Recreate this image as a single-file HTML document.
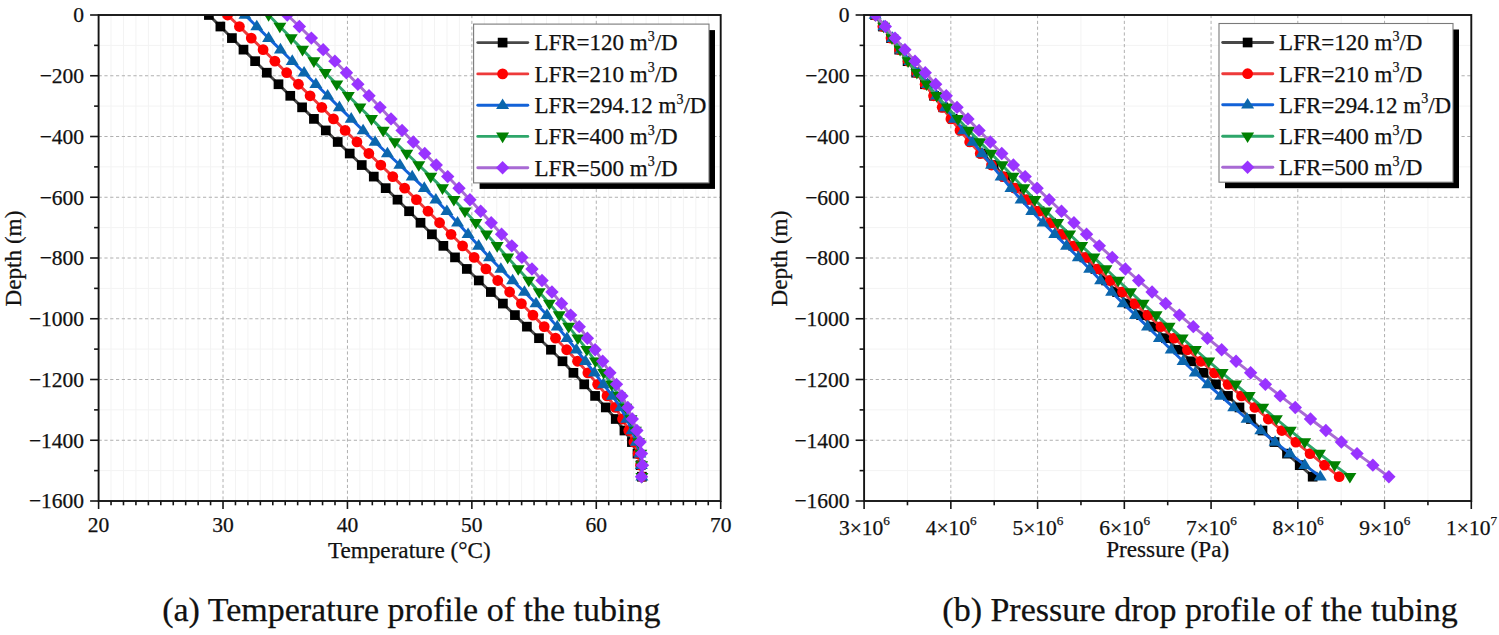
<!DOCTYPE html><html><head><meta charset="utf-8"><style>html,body{margin:0;padding:0;background:#fff;width:1499px;height:635px;overflow:hidden}svg{display:block;font-family:"Liberation Serif",serif}text{stroke:#111;stroke-width:0.25px;paint-order:stroke}</style></head><body><svg width="1499" height="635" viewBox="0 0 1499 635" font-family="Liberation Serif" font-size="21.5" fill="#111"><defs><clipPath id="ca"><rect x="98.6" y="15.0" width="622.10" height="486.0"/></clipPath><clipPath id="cb"><rect x="864.1" y="15.0" width="607.20" height="486.0"/></clipPath></defs><line x1="111.04" y1="15.0" x2="111.04" y2="501.0" stroke="#f3f3f3" stroke-width="1"/><line x1="123.48" y1="15.0" x2="123.48" y2="501.0" stroke="#f3f3f3" stroke-width="1"/><line x1="135.93" y1="15.0" x2="135.93" y2="501.0" stroke="#f3f3f3" stroke-width="1"/><line x1="148.37" y1="15.0" x2="148.37" y2="501.0" stroke="#f3f3f3" stroke-width="1"/><line x1="160.81" y1="15.0" x2="160.81" y2="501.0" stroke="#f3f3f3" stroke-width="1"/><line x1="173.25" y1="15.0" x2="173.25" y2="501.0" stroke="#f3f3f3" stroke-width="1"/><line x1="185.69" y1="15.0" x2="185.69" y2="501.0" stroke="#f3f3f3" stroke-width="1"/><line x1="198.14" y1="15.0" x2="198.14" y2="501.0" stroke="#f3f3f3" stroke-width="1"/><line x1="210.58" y1="15.0" x2="210.58" y2="501.0" stroke="#f3f3f3" stroke-width="1"/><line x1="235.46" y1="15.0" x2="235.46" y2="501.0" stroke="#f3f3f3" stroke-width="1"/><line x1="247.90" y1="15.0" x2="247.90" y2="501.0" stroke="#f3f3f3" stroke-width="1"/><line x1="260.35" y1="15.0" x2="260.35" y2="501.0" stroke="#f3f3f3" stroke-width="1"/><line x1="272.79" y1="15.0" x2="272.79" y2="501.0" stroke="#f3f3f3" stroke-width="1"/><line x1="285.23" y1="15.0" x2="285.23" y2="501.0" stroke="#f3f3f3" stroke-width="1"/><line x1="297.67" y1="15.0" x2="297.67" y2="501.0" stroke="#f3f3f3" stroke-width="1"/><line x1="310.11" y1="15.0" x2="310.11" y2="501.0" stroke="#f3f3f3" stroke-width="1"/><line x1="322.56" y1="15.0" x2="322.56" y2="501.0" stroke="#f3f3f3" stroke-width="1"/><line x1="335.00" y1="15.0" x2="335.00" y2="501.0" stroke="#f3f3f3" stroke-width="1"/><line x1="359.88" y1="15.0" x2="359.88" y2="501.0" stroke="#f3f3f3" stroke-width="1"/><line x1="372.32" y1="15.0" x2="372.32" y2="501.0" stroke="#f3f3f3" stroke-width="1"/><line x1="384.77" y1="15.0" x2="384.77" y2="501.0" stroke="#f3f3f3" stroke-width="1"/><line x1="397.21" y1="15.0" x2="397.21" y2="501.0" stroke="#f3f3f3" stroke-width="1"/><line x1="409.65" y1="15.0" x2="409.65" y2="501.0" stroke="#f3f3f3" stroke-width="1"/><line x1="422.09" y1="15.0" x2="422.09" y2="501.0" stroke="#f3f3f3" stroke-width="1"/><line x1="434.53" y1="15.0" x2="434.53" y2="501.0" stroke="#f3f3f3" stroke-width="1"/><line x1="446.98" y1="15.0" x2="446.98" y2="501.0" stroke="#f3f3f3" stroke-width="1"/><line x1="459.42" y1="15.0" x2="459.42" y2="501.0" stroke="#f3f3f3" stroke-width="1"/><line x1="484.30" y1="15.0" x2="484.30" y2="501.0" stroke="#f3f3f3" stroke-width="1"/><line x1="496.74" y1="15.0" x2="496.74" y2="501.0" stroke="#f3f3f3" stroke-width="1"/><line x1="509.19" y1="15.0" x2="509.19" y2="501.0" stroke="#f3f3f3" stroke-width="1"/><line x1="521.63" y1="15.0" x2="521.63" y2="501.0" stroke="#f3f3f3" stroke-width="1"/><line x1="534.07" y1="15.0" x2="534.07" y2="501.0" stroke="#f3f3f3" stroke-width="1"/><line x1="546.51" y1="15.0" x2="546.51" y2="501.0" stroke="#f3f3f3" stroke-width="1"/><line x1="558.95" y1="15.0" x2="558.95" y2="501.0" stroke="#f3f3f3" stroke-width="1"/><line x1="571.40" y1="15.0" x2="571.40" y2="501.0" stroke="#f3f3f3" stroke-width="1"/><line x1="583.84" y1="15.0" x2="583.84" y2="501.0" stroke="#f3f3f3" stroke-width="1"/><line x1="608.72" y1="15.0" x2="608.72" y2="501.0" stroke="#f3f3f3" stroke-width="1"/><line x1="621.16" y1="15.0" x2="621.16" y2="501.0" stroke="#f3f3f3" stroke-width="1"/><line x1="633.61" y1="15.0" x2="633.61" y2="501.0" stroke="#f3f3f3" stroke-width="1"/><line x1="646.05" y1="15.0" x2="646.05" y2="501.0" stroke="#f3f3f3" stroke-width="1"/><line x1="658.49" y1="15.0" x2="658.49" y2="501.0" stroke="#f3f3f3" stroke-width="1"/><line x1="670.93" y1="15.0" x2="670.93" y2="501.0" stroke="#f3f3f3" stroke-width="1"/><line x1="683.37" y1="15.0" x2="683.37" y2="501.0" stroke="#f3f3f3" stroke-width="1"/><line x1="695.82" y1="15.0" x2="695.82" y2="501.0" stroke="#f3f3f3" stroke-width="1"/><line x1="708.26" y1="15.0" x2="708.26" y2="501.0" stroke="#f3f3f3" stroke-width="1"/><line x1="98.6" y1="45.38" x2="720.7" y2="45.38" stroke="#f3f3f3" stroke-width="1"/><line x1="98.6" y1="106.12" x2="720.7" y2="106.12" stroke="#f3f3f3" stroke-width="1"/><line x1="98.6" y1="166.88" x2="720.7" y2="166.88" stroke="#f3f3f3" stroke-width="1"/><line x1="98.6" y1="227.62" x2="720.7" y2="227.62" stroke="#f3f3f3" stroke-width="1"/><line x1="98.6" y1="288.38" x2="720.7" y2="288.38" stroke="#f3f3f3" stroke-width="1"/><line x1="98.6" y1="349.12" x2="720.7" y2="349.12" stroke="#f3f3f3" stroke-width="1"/><line x1="98.6" y1="409.88" x2="720.7" y2="409.88" stroke="#f3f3f3" stroke-width="1"/><line x1="98.6" y1="470.62" x2="720.7" y2="470.62" stroke="#f3f3f3" stroke-width="1"/><line x1="223.02" y1="15.0" x2="223.02" y2="501.0" stroke="#b0b0b0" stroke-width="1" stroke-dasharray="3.2 2.6"/><line x1="347.44" y1="15.0" x2="347.44" y2="501.0" stroke="#b0b0b0" stroke-width="1" stroke-dasharray="3.2 2.6"/><line x1="471.86" y1="15.0" x2="471.86" y2="501.0" stroke="#b0b0b0" stroke-width="1" stroke-dasharray="3.2 2.6"/><line x1="596.28" y1="15.0" x2="596.28" y2="501.0" stroke="#b0b0b0" stroke-width="1" stroke-dasharray="3.2 2.6"/><line x1="98.6" y1="75.75" x2="720.7" y2="75.75" stroke="#b0b0b0" stroke-width="1" stroke-dasharray="3.2 2.6"/><line x1="98.6" y1="136.50" x2="720.7" y2="136.50" stroke="#b0b0b0" stroke-width="1" stroke-dasharray="3.2 2.6"/><line x1="98.6" y1="197.25" x2="720.7" y2="197.25" stroke="#b0b0b0" stroke-width="1" stroke-dasharray="3.2 2.6"/><line x1="98.6" y1="258.00" x2="720.7" y2="258.00" stroke="#b0b0b0" stroke-width="1" stroke-dasharray="3.2 2.6"/><line x1="98.6" y1="318.75" x2="720.7" y2="318.75" stroke="#b0b0b0" stroke-width="1" stroke-dasharray="3.2 2.6"/><line x1="98.6" y1="379.50" x2="720.7" y2="379.50" stroke="#b0b0b0" stroke-width="1" stroke-dasharray="3.2 2.6"/><line x1="98.6" y1="440.25" x2="720.7" y2="440.25" stroke="#b0b0b0" stroke-width="1" stroke-dasharray="3.2 2.6"/><g clip-path="url(#ca)"><path d="M208.89 15.00 L220.38 26.54 L231.91 38.09 L243.49 49.63 L255.11 61.17 L266.78 72.71 L278.49 84.25 L290.26 95.80 L302.08 107.34 L313.93 118.88 L325.81 130.43 L337.71 141.97 L349.71 153.51 L361.75 165.05 L373.77 176.59 L385.70 188.14 L397.49 199.68 L409.07 211.22 L420.51 222.76 L431.91 234.31 L443.38 245.85 L455.00 257.39 L466.82 268.94 L478.79 280.48 L490.84 292.02 L502.90 303.56 L514.92 315.11 L526.91 326.65 L538.99 338.19 L550.93 349.73 L562.49 361.27 L573.42 372.82 L584.24 384.36 L595.09 395.90 L605.79 407.44 L615.74 418.99 L624.45 430.53 L631.92 442.07 L637.52 453.62 L640.63 465.16 L641.87 476.70" fill="none" stroke="#484848" stroke-width="2.9" stroke-linejoin="round" stroke-linecap="round"/><rect x="204.04" y="10.15" width="9.70" height="9.70" fill="#000000"/><rect x="215.53" y="21.69" width="9.70" height="9.70" fill="#000000"/><rect x="227.06" y="33.23" width="9.70" height="9.70" fill="#000000"/><rect x="238.64" y="44.78" width="9.70" height="9.70" fill="#000000"/><rect x="250.26" y="56.32" width="9.70" height="9.70" fill="#000000"/><rect x="261.93" y="67.86" width="9.70" height="9.70" fill="#000000"/><rect x="273.64" y="79.41" width="9.70" height="9.70" fill="#000000"/><rect x="285.41" y="90.95" width="9.70" height="9.70" fill="#000000"/><rect x="297.23" y="102.49" width="9.70" height="9.70" fill="#000000"/><rect x="309.08" y="114.03" width="9.70" height="9.70" fill="#000000"/><rect x="320.96" y="125.58" width="9.70" height="9.70" fill="#000000"/><rect x="332.86" y="137.12" width="9.70" height="9.70" fill="#000000"/><rect x="344.86" y="148.66" width="9.70" height="9.70" fill="#000000"/><rect x="356.90" y="160.20" width="9.70" height="9.70" fill="#000000"/><rect x="368.92" y="171.75" width="9.70" height="9.70" fill="#000000"/><rect x="380.85" y="183.29" width="9.70" height="9.70" fill="#000000"/><rect x="392.64" y="194.83" width="9.70" height="9.70" fill="#000000"/><rect x="404.22" y="206.37" width="9.70" height="9.70" fill="#000000"/><rect x="415.66" y="217.91" width="9.70" height="9.70" fill="#000000"/><rect x="427.06" y="229.46" width="9.70" height="9.70" fill="#000000"/><rect x="438.53" y="241.00" width="9.70" height="9.70" fill="#000000"/><rect x="450.15" y="252.54" width="9.70" height="9.70" fill="#000000"/><rect x="461.97" y="264.08" width="9.70" height="9.70" fill="#000000"/><rect x="473.94" y="275.63" width="9.70" height="9.70" fill="#000000"/><rect x="485.99" y="287.17" width="9.70" height="9.70" fill="#000000"/><rect x="498.05" y="298.71" width="9.70" height="9.70" fill="#000000"/><rect x="510.07" y="310.25" width="9.70" height="9.70" fill="#000000"/><rect x="522.06" y="321.80" width="9.70" height="9.70" fill="#000000"/><rect x="534.14" y="333.34" width="9.70" height="9.70" fill="#000000"/><rect x="546.08" y="344.88" width="9.70" height="9.70" fill="#000000"/><rect x="557.64" y="356.42" width="9.70" height="9.70" fill="#000000"/><rect x="568.57" y="367.97" width="9.70" height="9.70" fill="#000000"/><rect x="579.39" y="379.51" width="9.70" height="9.70" fill="#000000"/><rect x="590.24" y="391.05" width="9.70" height="9.70" fill="#000000"/><rect x="600.94" y="402.59" width="9.70" height="9.70" fill="#000000"/><rect x="610.89" y="414.14" width="9.70" height="9.70" fill="#000000"/><rect x="619.60" y="425.68" width="9.70" height="9.70" fill="#000000"/><rect x="627.07" y="437.22" width="9.70" height="9.70" fill="#000000"/><rect x="632.67" y="448.76" width="9.70" height="9.70" fill="#000000"/><rect x="635.78" y="460.31" width="9.70" height="9.70" fill="#000000"/><rect x="637.02" y="471.85" width="9.70" height="9.70" fill="#000000"/><path d="M227.55 15.00 L239.42 26.54 L251.27 38.09 L263.09 49.63 L274.89 61.17 L286.67 72.71 L298.41 84.25 L310.10 95.80 L321.76 107.34 L333.44 118.88 L345.15 130.43 L356.95 141.97 L368.85 153.51 L380.80 165.05 L392.75 176.59 L404.63 188.14 L416.40 199.68 L428.03 211.22 L439.56 222.76 L451.06 234.31 L462.58 245.85 L474.16 257.39 L485.89 268.94 L497.75 280.48 L509.62 292.02 L521.38 303.56 L532.91 315.11 L544.22 326.65 L555.52 338.19 L566.68 349.73 L577.52 361.27 L587.88 372.82 L597.66 384.36 L607.03 395.90 L615.42 407.44 L622.51 418.99 L628.75 430.53 L633.91 442.07 L638.17 453.62 L640.61 465.16 L641.87 476.70" fill="none" stroke="#ee3a3a" stroke-width="2.9" stroke-linejoin="round" stroke-linecap="round"/><circle cx="227.55" cy="15.00" r="5.4" fill="#ff0000"/><circle cx="239.42" cy="26.54" r="5.4" fill="#ff0000"/><circle cx="251.27" cy="38.09" r="5.4" fill="#ff0000"/><circle cx="263.09" cy="49.63" r="5.4" fill="#ff0000"/><circle cx="274.89" cy="61.17" r="5.4" fill="#ff0000"/><circle cx="286.67" cy="72.71" r="5.4" fill="#ff0000"/><circle cx="298.41" cy="84.25" r="5.4" fill="#ff0000"/><circle cx="310.10" cy="95.80" r="5.4" fill="#ff0000"/><circle cx="321.76" cy="107.34" r="5.4" fill="#ff0000"/><circle cx="333.44" cy="118.88" r="5.4" fill="#ff0000"/><circle cx="345.15" cy="130.43" r="5.4" fill="#ff0000"/><circle cx="356.95" cy="141.97" r="5.4" fill="#ff0000"/><circle cx="368.85" cy="153.51" r="5.4" fill="#ff0000"/><circle cx="380.80" cy="165.05" r="5.4" fill="#ff0000"/><circle cx="392.75" cy="176.59" r="5.4" fill="#ff0000"/><circle cx="404.63" cy="188.14" r="5.4" fill="#ff0000"/><circle cx="416.40" cy="199.68" r="5.4" fill="#ff0000"/><circle cx="428.03" cy="211.22" r="5.4" fill="#ff0000"/><circle cx="439.56" cy="222.76" r="5.4" fill="#ff0000"/><circle cx="451.06" cy="234.31" r="5.4" fill="#ff0000"/><circle cx="462.58" cy="245.85" r="5.4" fill="#ff0000"/><circle cx="474.16" cy="257.39" r="5.4" fill="#ff0000"/><circle cx="485.89" cy="268.94" r="5.4" fill="#ff0000"/><circle cx="497.75" cy="280.48" r="5.4" fill="#ff0000"/><circle cx="509.62" cy="292.02" r="5.4" fill="#ff0000"/><circle cx="521.38" cy="303.56" r="5.4" fill="#ff0000"/><circle cx="532.91" cy="315.11" r="5.4" fill="#ff0000"/><circle cx="544.22" cy="326.65" r="5.4" fill="#ff0000"/><circle cx="555.52" cy="338.19" r="5.4" fill="#ff0000"/><circle cx="566.68" cy="349.73" r="5.4" fill="#ff0000"/><circle cx="577.52" cy="361.27" r="5.4" fill="#ff0000"/><circle cx="587.88" cy="372.82" r="5.4" fill="#ff0000"/><circle cx="597.66" cy="384.36" r="5.4" fill="#ff0000"/><circle cx="607.03" cy="395.90" r="5.4" fill="#ff0000"/><circle cx="615.42" cy="407.44" r="5.4" fill="#ff0000"/><circle cx="622.51" cy="418.99" r="5.4" fill="#ff0000"/><circle cx="628.75" cy="430.53" r="5.4" fill="#ff0000"/><circle cx="633.91" cy="442.07" r="5.4" fill="#ff0000"/><circle cx="638.17" cy="453.62" r="5.4" fill="#ff0000"/><circle cx="640.61" cy="465.16" r="5.4" fill="#ff0000"/><circle cx="641.87" cy="476.70" r="5.4" fill="#ff0000"/><path d="M244.97 15.00 L256.79 26.54 L268.61 38.09 L280.43 49.63 L292.25 61.17 L304.07 72.71 L315.88 84.25 L327.64 95.80 L339.41 107.34 L351.22 118.88 L363.10 130.43 L375.12 141.97 L387.42 153.51 L399.85 165.05 L412.20 176.59 L424.27 188.14 L435.86 199.68 L446.89 211.22 L457.56 222.76 L468.07 234.31 L478.64 245.85 L489.50 257.39 L500.85 268.94 L512.61 280.48 L524.43 292.02 L536.00 303.56 L547.00 315.11 L557.23 326.65 L566.97 338.19 L576.36 349.73 L585.48 361.27 L594.43 372.82 L603.37 384.36 L612.49 395.90 L620.54 407.44 L626.78 418.99 L632.03 430.53 L636.26 442.07 L639.79 453.62 L641.30 465.16 L641.87 476.70" fill="none" stroke="#1262d8" stroke-width="2.9" stroke-linejoin="round" stroke-linecap="round"/><path d="M244.97 8.20L251.47 18.80L238.47 18.80Z" fill="#0b66ad"/><path d="M256.79 19.74L263.29 30.34L250.29 30.34Z" fill="#0b66ad"/><path d="M268.61 31.29L275.11 41.88L262.11 41.88Z" fill="#0b66ad"/><path d="M280.43 42.83L286.93 53.43L273.93 53.43Z" fill="#0b66ad"/><path d="M292.25 54.37L298.75 64.97L285.75 64.97Z" fill="#0b66ad"/><path d="M304.07 65.91L310.57 76.51L297.57 76.51Z" fill="#0b66ad"/><path d="M315.88 77.45L322.38 88.05L309.38 88.05Z" fill="#0b66ad"/><path d="M327.64 89.00L334.14 99.60L321.14 99.60Z" fill="#0b66ad"/><path d="M339.41 100.54L345.91 111.14L332.91 111.14Z" fill="#0b66ad"/><path d="M351.22 112.08L357.72 122.68L344.72 122.68Z" fill="#0b66ad"/><path d="M363.10 123.63L369.60 134.23L356.60 134.23Z" fill="#0b66ad"/><path d="M375.12 135.17L381.62 145.77L368.62 145.77Z" fill="#0b66ad"/><path d="M387.42 146.71L393.92 157.31L380.92 157.31Z" fill="#0b66ad"/><path d="M399.85 158.25L406.35 168.85L393.35 168.85Z" fill="#0b66ad"/><path d="M412.20 169.79L418.70 180.40L405.70 180.40Z" fill="#0b66ad"/><path d="M424.27 181.34L430.77 191.94L417.77 191.94Z" fill="#0b66ad"/><path d="M435.86 192.88L442.36 203.48L429.36 203.48Z" fill="#0b66ad"/><path d="M446.89 204.42L453.39 215.02L440.39 215.02Z" fill="#0b66ad"/><path d="M457.56 215.96L464.06 226.56L451.06 226.56Z" fill="#0b66ad"/><path d="M468.07 227.51L474.57 238.11L461.57 238.11Z" fill="#0b66ad"/><path d="M478.64 239.05L485.14 249.65L472.14 249.65Z" fill="#0b66ad"/><path d="M489.50 250.59L496.00 261.19L483.00 261.19Z" fill="#0b66ad"/><path d="M500.85 262.13L507.35 272.74L494.35 272.74Z" fill="#0b66ad"/><path d="M512.61 273.68L519.11 284.28L506.11 284.28Z" fill="#0b66ad"/><path d="M524.43 285.22L530.93 295.82L517.93 295.82Z" fill="#0b66ad"/><path d="M536.00 296.76L542.50 307.36L529.50 307.36Z" fill="#0b66ad"/><path d="M547.00 308.31L553.50 318.91L540.50 318.91Z" fill="#0b66ad"/><path d="M557.23 319.85L563.73 330.45L550.73 330.45Z" fill="#0b66ad"/><path d="M566.97 331.39L573.47 341.99L560.47 341.99Z" fill="#0b66ad"/><path d="M576.36 342.93L582.86 353.53L569.86 353.53Z" fill="#0b66ad"/><path d="M585.48 354.47L591.98 365.07L578.98 365.07Z" fill="#0b66ad"/><path d="M594.43 366.02L600.93 376.62L587.93 376.62Z" fill="#0b66ad"/><path d="M603.37 377.56L609.87 388.16L596.87 388.16Z" fill="#0b66ad"/><path d="M612.49 389.10L618.99 399.70L605.99 399.70Z" fill="#0b66ad"/><path d="M620.54 400.64L627.04 411.25L614.04 411.25Z" fill="#0b66ad"/><path d="M626.78 412.19L633.28 422.79L620.28 422.79Z" fill="#0b66ad"/><path d="M632.03 423.73L638.53 434.33L625.53 434.33Z" fill="#0b66ad"/><path d="M636.26 435.27L642.76 445.87L629.76 445.87Z" fill="#0b66ad"/><path d="M639.79 446.81L646.29 457.42L633.29 457.42Z" fill="#0b66ad"/><path d="M641.30 458.36L647.80 468.96L634.80 468.96Z" fill="#0b66ad"/><path d="M641.87 469.90L648.37 480.50L635.37 480.50Z" fill="#0b66ad"/><path d="M268.61 15.00 L279.86 26.54 L291.16 38.09 L302.50 49.63 L313.89 61.17 L325.32 72.71 L336.79 84.25 L348.31 95.80 L359.88 107.34 L371.49 118.88 L383.15 130.43 L394.87 141.97 L406.79 153.51 L418.79 165.05 L430.73 176.59 L442.48 188.14 L453.88 199.68 L464.97 211.22 L475.85 222.76 L486.56 234.31 L497.16 245.85 L507.69 257.39 L518.24 268.94 L528.79 280.48 L539.22 292.02 L549.41 303.56 L559.23 315.11 L568.67 326.65 L577.88 338.19 L586.84 349.73 L595.47 361.27 L603.71 372.82 L611.56 384.36 L619.18 395.90 L625.77 407.44 L630.98 418.99 L635.39 430.53 L638.55 442.07 L640.77 453.62 L641.59 465.16 L641.87 476.70" fill="none" stroke="#2ea66a" stroke-width="2.9" stroke-linejoin="round" stroke-linecap="round"/><path d="M268.61 21.80L275.11 11.20L262.11 11.20Z" fill="#008000"/><path d="M279.86 33.34L286.36 22.74L273.36 22.74Z" fill="#008000"/><path d="M291.16 44.88L297.66 34.29L284.66 34.29Z" fill="#008000"/><path d="M302.50 56.43L309.00 45.83L296.00 45.83Z" fill="#008000"/><path d="M313.89 67.97L320.39 57.37L307.39 57.37Z" fill="#008000"/><path d="M325.32 79.51L331.82 68.91L318.82 68.91Z" fill="#008000"/><path d="M336.79 91.05L343.29 80.45L330.29 80.45Z" fill="#008000"/><path d="M348.31 102.60L354.81 92.00L341.81 92.00Z" fill="#008000"/><path d="M359.88 114.14L366.38 103.54L353.38 103.54Z" fill="#008000"/><path d="M371.49 125.68L377.99 115.08L364.99 115.08Z" fill="#008000"/><path d="M383.15 137.23L389.65 126.63L376.65 126.63Z" fill="#008000"/><path d="M394.87 148.77L401.37 138.17L388.37 138.17Z" fill="#008000"/><path d="M406.79 160.31L413.29 149.71L400.29 149.71Z" fill="#008000"/><path d="M418.79 171.85L425.29 161.25L412.29 161.25Z" fill="#008000"/><path d="M430.73 183.40L437.23 172.79L424.23 172.79Z" fill="#008000"/><path d="M442.48 194.94L448.98 184.34L435.98 184.34Z" fill="#008000"/><path d="M453.88 206.48L460.38 195.88L447.38 195.88Z" fill="#008000"/><path d="M464.97 218.02L471.47 207.42L458.47 207.42Z" fill="#008000"/><path d="M475.85 229.56L482.35 218.96L469.35 218.96Z" fill="#008000"/><path d="M486.56 241.11L493.06 230.51L480.06 230.51Z" fill="#008000"/><path d="M497.16 252.65L503.66 242.05L490.66 242.05Z" fill="#008000"/><path d="M507.69 264.19L514.19 253.59L501.19 253.59Z" fill="#008000"/><path d="M518.24 275.74L524.74 265.13L511.74 265.13Z" fill="#008000"/><path d="M528.79 287.28L535.29 276.68L522.29 276.68Z" fill="#008000"/><path d="M539.22 298.82L545.72 288.22L532.72 288.22Z" fill="#008000"/><path d="M549.41 310.36L555.91 299.76L542.91 299.76Z" fill="#008000"/><path d="M559.23 321.91L565.73 311.31L552.73 311.31Z" fill="#008000"/><path d="M568.67 333.45L575.17 322.85L562.17 322.85Z" fill="#008000"/><path d="M577.88 344.99L584.38 334.39L571.38 334.39Z" fill="#008000"/><path d="M586.84 356.53L593.34 345.93L580.34 345.93Z" fill="#008000"/><path d="M595.47 368.07L601.97 357.47L588.97 357.47Z" fill="#008000"/><path d="M603.71 379.62L610.21 369.02L597.21 369.02Z" fill="#008000"/><path d="M611.56 391.16L618.06 380.56L605.06 380.56Z" fill="#008000"/><path d="M619.18 402.70L625.68 392.10L612.68 392.10Z" fill="#008000"/><path d="M625.77 414.25L632.27 403.64L619.27 403.64Z" fill="#008000"/><path d="M630.98 425.79L637.48 415.19L624.48 415.19Z" fill="#008000"/><path d="M635.39 437.33L641.89 426.73L628.89 426.73Z" fill="#008000"/><path d="M638.55 448.87L645.05 438.27L632.05 438.27Z" fill="#008000"/><path d="M640.77 460.42L647.27 449.81L634.27 449.81Z" fill="#008000"/><path d="M641.59 471.96L648.09 461.36L635.09 461.36Z" fill="#008000"/><path d="M641.87 483.50L648.37 472.90L635.37 472.90Z" fill="#008000"/><path d="M287.27 15.00 L299.38 26.54 L311.36 38.09 L323.20 49.63 L334.90 61.17 L346.46 72.71 L357.85 84.25 L369.00 95.80 L380.03 107.34 L391.02 118.88 L402.08 130.43 L413.31 141.97 L424.74 153.51 L436.25 165.05 L447.71 176.59 L458.99 188.14 L469.96 199.68 L480.68 211.22 L491.21 222.76 L501.58 234.31 L511.80 245.85 L521.90 257.39 L531.97 268.94 L542.03 280.48 L551.93 292.02 L561.52 303.56 L570.67 315.11 L579.25 326.65 L587.36 338.19 L595.13 349.73 L602.68 361.27 L609.90 372.82 L616.49 384.36 L621.96 395.90 L627.81 407.44 L632.29 418.99 L636.89 430.53 L640.13 442.07 L641.50 453.62 L642.49 465.16 L641.50 476.70" fill="none" stroke="#a86ad4" stroke-width="2.9" stroke-linejoin="round" stroke-linecap="round"/><path d="M287.27 8.30L293.97 15.00L287.27 21.70L280.57 15.00Z" fill="#9933ff"/><path d="M299.38 19.84L306.08 26.54L299.38 33.24L292.68 26.54Z" fill="#9933ff"/><path d="M311.36 31.39L318.06 38.09L311.36 44.79L304.66 38.09Z" fill="#9933ff"/><path d="M323.20 42.93L329.90 49.63L323.20 56.33L316.50 49.63Z" fill="#9933ff"/><path d="M334.90 54.47L341.60 61.17L334.90 67.87L328.20 61.17Z" fill="#9933ff"/><path d="M346.46 66.01L353.16 72.71L346.46 79.41L339.76 72.71Z" fill="#9933ff"/><path d="M357.85 77.55L364.55 84.25L357.85 90.95L351.15 84.25Z" fill="#9933ff"/><path d="M369.00 89.10L375.70 95.80L369.00 102.50L362.30 95.80Z" fill="#9933ff"/><path d="M380.03 100.64L386.73 107.34L380.03 114.04L373.33 107.34Z" fill="#9933ff"/><path d="M391.02 112.18L397.72 118.88L391.02 125.58L384.32 118.88Z" fill="#9933ff"/><path d="M402.08 123.73L408.78 130.43L402.08 137.12L395.38 130.43Z" fill="#9933ff"/><path d="M413.31 135.27L420.01 141.97L413.31 148.67L406.61 141.97Z" fill="#9933ff"/><path d="M424.74 146.81L431.44 153.51L424.74 160.21L418.04 153.51Z" fill="#9933ff"/><path d="M436.25 158.35L442.95 165.05L436.25 171.75L429.55 165.05Z" fill="#9933ff"/><path d="M447.71 169.90L454.41 176.59L447.71 183.29L441.01 176.59Z" fill="#9933ff"/><path d="M458.99 181.44L465.69 188.14L458.99 194.84L452.29 188.14Z" fill="#9933ff"/><path d="M469.96 192.98L476.66 199.68L469.96 206.38L463.26 199.68Z" fill="#9933ff"/><path d="M480.68 204.52L487.38 211.22L480.68 217.92L473.98 211.22Z" fill="#9933ff"/><path d="M491.21 216.06L497.91 222.76L491.21 229.46L484.51 222.76Z" fill="#9933ff"/><path d="M501.58 227.61L508.28 234.31L501.58 241.01L494.88 234.31Z" fill="#9933ff"/><path d="M511.80 239.15L518.50 245.85L511.80 252.55L505.10 245.85Z" fill="#9933ff"/><path d="M521.90 250.69L528.60 257.39L521.90 264.09L515.20 257.39Z" fill="#9933ff"/><path d="M531.97 262.24L538.67 268.94L531.97 275.63L525.27 268.94Z" fill="#9933ff"/><path d="M542.03 273.78L548.73 280.48L542.03 287.18L535.33 280.48Z" fill="#9933ff"/><path d="M551.93 285.32L558.63 292.02L551.93 298.72L545.23 292.02Z" fill="#9933ff"/><path d="M561.52 296.86L568.22 303.56L561.52 310.26L554.82 303.56Z" fill="#9933ff"/><path d="M570.67 308.41L577.37 315.11L570.67 321.81L563.97 315.11Z" fill="#9933ff"/><path d="M579.25 319.95L585.95 326.65L579.25 333.35L572.55 326.65Z" fill="#9933ff"/><path d="M587.36 331.49L594.06 338.19L587.36 344.89L580.66 338.19Z" fill="#9933ff"/><path d="M595.13 343.03L601.83 349.73L595.13 356.43L588.43 349.73Z" fill="#9933ff"/><path d="M602.68 354.57L609.38 361.27L602.68 367.97L595.98 361.27Z" fill="#9933ff"/><path d="M609.90 366.12L616.60 372.82L609.90 379.52L603.20 372.82Z" fill="#9933ff"/><path d="M616.49 377.66L623.19 384.36L616.49 391.06L609.79 384.36Z" fill="#9933ff"/><path d="M621.96 389.20L628.66 395.90L621.96 402.60L615.26 395.90Z" fill="#9933ff"/><path d="M627.81 400.75L634.51 407.44L627.81 414.14L621.11 407.44Z" fill="#9933ff"/><path d="M632.29 412.29L638.99 418.99L632.29 425.69L625.59 418.99Z" fill="#9933ff"/><path d="M636.89 423.83L643.59 430.53L636.89 437.23L630.19 430.53Z" fill="#9933ff"/><path d="M640.13 435.37L646.83 442.07L640.13 448.77L633.43 442.07Z" fill="#9933ff"/><path d="M641.50 446.92L648.20 453.62L641.50 460.31L634.80 453.62Z" fill="#9933ff"/><path d="M642.49 458.46L649.19 465.16L642.49 471.86L635.79 465.16Z" fill="#9933ff"/><path d="M641.50 470.00L648.20 476.70L641.50 483.40L634.80 476.70Z" fill="#9933ff"/></g><rect x="98.6" y="15.0" width="622.10" height="486.0" fill="none" stroke="#141414" stroke-width="1.9"/><line x1="90.10" y1="15.00" x2="98.6" y2="15.00" stroke="#141414" stroke-width="1.6"/><line x1="90.10" y1="75.75" x2="98.6" y2="75.75" stroke="#141414" stroke-width="1.6"/><line x1="90.10" y1="136.50" x2="98.6" y2="136.50" stroke="#141414" stroke-width="1.6"/><line x1="90.10" y1="197.25" x2="98.6" y2="197.25" stroke="#141414" stroke-width="1.6"/><line x1="90.10" y1="258.00" x2="98.6" y2="258.00" stroke="#141414" stroke-width="1.6"/><line x1="90.10" y1="318.75" x2="98.6" y2="318.75" stroke="#141414" stroke-width="1.6"/><line x1="90.10" y1="379.50" x2="98.6" y2="379.50" stroke="#141414" stroke-width="1.6"/><line x1="90.10" y1="440.25" x2="98.6" y2="440.25" stroke="#141414" stroke-width="1.6"/><line x1="90.10" y1="501.00" x2="98.6" y2="501.00" stroke="#141414" stroke-width="1.6"/><line x1="94.10" y1="45.38" x2="98.6" y2="45.38" stroke="#141414" stroke-width="1.6"/><line x1="94.10" y1="106.12" x2="98.6" y2="106.12" stroke="#141414" stroke-width="1.6"/><line x1="94.10" y1="166.88" x2="98.6" y2="166.88" stroke="#141414" stroke-width="1.6"/><line x1="94.10" y1="227.62" x2="98.6" y2="227.62" stroke="#141414" stroke-width="1.6"/><line x1="94.10" y1="288.38" x2="98.6" y2="288.38" stroke="#141414" stroke-width="1.6"/><line x1="94.10" y1="349.12" x2="98.6" y2="349.12" stroke="#141414" stroke-width="1.6"/><line x1="94.10" y1="409.88" x2="98.6" y2="409.88" stroke="#141414" stroke-width="1.6"/><line x1="94.10" y1="470.62" x2="98.6" y2="470.62" stroke="#141414" stroke-width="1.6"/><line x1="98.60" y1="501.0" x2="98.60" y2="509.00" stroke="#141414" stroke-width="1.6"/><line x1="223.02" y1="501.0" x2="223.02" y2="509.00" stroke="#141414" stroke-width="1.6"/><line x1="347.44" y1="501.0" x2="347.44" y2="509.00" stroke="#141414" stroke-width="1.6"/><line x1="471.86" y1="501.0" x2="471.86" y2="509.00" stroke="#141414" stroke-width="1.6"/><line x1="596.28" y1="501.0" x2="596.28" y2="509.00" stroke="#141414" stroke-width="1.6"/><line x1="720.70" y1="501.0" x2="720.70" y2="509.00" stroke="#141414" stroke-width="1.6"/><line x1="111.04" y1="501.0" x2="111.04" y2="505.30" stroke="#141414" stroke-width="1.6"/><line x1="123.48" y1="501.0" x2="123.48" y2="505.30" stroke="#141414" stroke-width="1.6"/><line x1="135.93" y1="501.0" x2="135.93" y2="505.30" stroke="#141414" stroke-width="1.6"/><line x1="148.37" y1="501.0" x2="148.37" y2="505.30" stroke="#141414" stroke-width="1.6"/><line x1="160.81" y1="501.0" x2="160.81" y2="505.30" stroke="#141414" stroke-width="1.6"/><line x1="173.25" y1="501.0" x2="173.25" y2="505.30" stroke="#141414" stroke-width="1.6"/><line x1="185.69" y1="501.0" x2="185.69" y2="505.30" stroke="#141414" stroke-width="1.6"/><line x1="198.14" y1="501.0" x2="198.14" y2="505.30" stroke="#141414" stroke-width="1.6"/><line x1="210.58" y1="501.0" x2="210.58" y2="505.30" stroke="#141414" stroke-width="1.6"/><line x1="235.46" y1="501.0" x2="235.46" y2="505.30" stroke="#141414" stroke-width="1.6"/><line x1="247.90" y1="501.0" x2="247.90" y2="505.30" stroke="#141414" stroke-width="1.6"/><line x1="260.35" y1="501.0" x2="260.35" y2="505.30" stroke="#141414" stroke-width="1.6"/><line x1="272.79" y1="501.0" x2="272.79" y2="505.30" stroke="#141414" stroke-width="1.6"/><line x1="285.23" y1="501.0" x2="285.23" y2="505.30" stroke="#141414" stroke-width="1.6"/><line x1="297.67" y1="501.0" x2="297.67" y2="505.30" stroke="#141414" stroke-width="1.6"/><line x1="310.11" y1="501.0" x2="310.11" y2="505.30" stroke="#141414" stroke-width="1.6"/><line x1="322.56" y1="501.0" x2="322.56" y2="505.30" stroke="#141414" stroke-width="1.6"/><line x1="335.00" y1="501.0" x2="335.00" y2="505.30" stroke="#141414" stroke-width="1.6"/><line x1="359.88" y1="501.0" x2="359.88" y2="505.30" stroke="#141414" stroke-width="1.6"/><line x1="372.32" y1="501.0" x2="372.32" y2="505.30" stroke="#141414" stroke-width="1.6"/><line x1="384.77" y1="501.0" x2="384.77" y2="505.30" stroke="#141414" stroke-width="1.6"/><line x1="397.21" y1="501.0" x2="397.21" y2="505.30" stroke="#141414" stroke-width="1.6"/><line x1="409.65" y1="501.0" x2="409.65" y2="505.30" stroke="#141414" stroke-width="1.6"/><line x1="422.09" y1="501.0" x2="422.09" y2="505.30" stroke="#141414" stroke-width="1.6"/><line x1="434.53" y1="501.0" x2="434.53" y2="505.30" stroke="#141414" stroke-width="1.6"/><line x1="446.98" y1="501.0" x2="446.98" y2="505.30" stroke="#141414" stroke-width="1.6"/><line x1="459.42" y1="501.0" x2="459.42" y2="505.30" stroke="#141414" stroke-width="1.6"/><line x1="484.30" y1="501.0" x2="484.30" y2="505.30" stroke="#141414" stroke-width="1.6"/><line x1="496.74" y1="501.0" x2="496.74" y2="505.30" stroke="#141414" stroke-width="1.6"/><line x1="509.19" y1="501.0" x2="509.19" y2="505.30" stroke="#141414" stroke-width="1.6"/><line x1="521.63" y1="501.0" x2="521.63" y2="505.30" stroke="#141414" stroke-width="1.6"/><line x1="534.07" y1="501.0" x2="534.07" y2="505.30" stroke="#141414" stroke-width="1.6"/><line x1="546.51" y1="501.0" x2="546.51" y2="505.30" stroke="#141414" stroke-width="1.6"/><line x1="558.95" y1="501.0" x2="558.95" y2="505.30" stroke="#141414" stroke-width="1.6"/><line x1="571.40" y1="501.0" x2="571.40" y2="505.30" stroke="#141414" stroke-width="1.6"/><line x1="583.84" y1="501.0" x2="583.84" y2="505.30" stroke="#141414" stroke-width="1.6"/><line x1="608.72" y1="501.0" x2="608.72" y2="505.30" stroke="#141414" stroke-width="1.6"/><line x1="621.16" y1="501.0" x2="621.16" y2="505.30" stroke="#141414" stroke-width="1.6"/><line x1="633.61" y1="501.0" x2="633.61" y2="505.30" stroke="#141414" stroke-width="1.6"/><line x1="646.05" y1="501.0" x2="646.05" y2="505.30" stroke="#141414" stroke-width="1.6"/><line x1="658.49" y1="501.0" x2="658.49" y2="505.30" stroke="#141414" stroke-width="1.6"/><line x1="670.93" y1="501.0" x2="670.93" y2="505.30" stroke="#141414" stroke-width="1.6"/><line x1="683.37" y1="501.0" x2="683.37" y2="505.30" stroke="#141414" stroke-width="1.6"/><line x1="695.82" y1="501.0" x2="695.82" y2="505.30" stroke="#141414" stroke-width="1.6"/><line x1="708.26" y1="501.0" x2="708.26" y2="505.30" stroke="#141414" stroke-width="1.6"/><text x="84.10" y="22.30" text-anchor="end">0</text><text x="84.10" y="83.05" text-anchor="end">−200</text><text x="84.10" y="143.80" text-anchor="end">−400</text><text x="84.10" y="204.55" text-anchor="end">−600</text><text x="84.10" y="265.30" text-anchor="end">−800</text><text x="84.10" y="326.05" text-anchor="end">−1000</text><text x="84.10" y="386.80" text-anchor="end">−1200</text><text x="84.10" y="447.55" text-anchor="end">−1400</text><text x="84.10" y="508.30" text-anchor="end">−1600</text><text x="98.60" y="532.3" text-anchor="middle">20</text><text x="223.02" y="532.3" text-anchor="middle">30</text><text x="347.44" y="532.3" text-anchor="middle">40</text><text x="471.86" y="532.3" text-anchor="middle">50</text><text x="596.28" y="532.3" text-anchor="middle">60</text><text x="720.70" y="532.3" text-anchor="middle">70</text><text x="409.3" y="558.1" text-anchor="middle" font-size="23.2">Temperature (°C)</text><text transform="translate(20.5 258.6) rotate(-90)" text-anchor="middle" font-size="23.2">Depth (m)</text><rect x="479.60" y="30.10" width="235.40" height="158.80" fill="#000"/><rect x="473.60" y="24.10" width="235.40" height="158.80" fill="#fff" stroke="#7a7a7a" stroke-width="1.1"/><line x1="477.80" y1="42.6" x2="527.80" y2="42.6" stroke="#484848" stroke-width="2.9" stroke-linecap="round"/><rect x="497.75" y="37.75" width="9.70" height="9.70" fill="#000000"/><text x="534.40" y="50.40" font-size="23">LFR=120 m<tspan font-size="14" dy="-9.5">3</tspan><tspan dy="9.5">/D</tspan></text><line x1="477.80" y1="73.9" x2="527.80" y2="73.9" stroke="#ee3a3a" stroke-width="2.9" stroke-linecap="round"/><circle cx="502.60" cy="73.90" r="5.4" fill="#ff0000"/><text x="534.40" y="81.70" font-size="23">LFR=210 m<tspan font-size="14" dy="-9.5">3</tspan><tspan dy="9.5">/D</tspan></text><line x1="477.80" y1="105.2" x2="527.80" y2="105.2" stroke="#1262d8" stroke-width="2.9" stroke-linecap="round"/><path d="M502.60 98.40L509.10 109.00L496.10 109.00Z" fill="#0b66ad"/><text x="534.40" y="113.00" font-size="23">LFR=294.12 m<tspan font-size="14" dy="-9.5">3</tspan><tspan dy="9.5">/D</tspan></text><line x1="477.80" y1="136.4" x2="527.80" y2="136.4" stroke="#2ea66a" stroke-width="2.9" stroke-linecap="round"/><path d="M502.60 143.20L509.10 132.60L496.10 132.60Z" fill="#008000"/><text x="534.40" y="144.20" font-size="23">LFR=400 m<tspan font-size="14" dy="-9.5">3</tspan><tspan dy="9.5">/D</tspan></text><line x1="477.80" y1="167.7" x2="527.80" y2="167.7" stroke="#a86ad4" stroke-width="2.9" stroke-linecap="round"/><path d="M502.60 161.00L509.30 167.70L502.60 174.40L495.90 167.70Z" fill="#9933ff"/><text x="534.40" y="175.50" font-size="23">LFR=500 m<tspan font-size="14" dy="-9.5">3</tspan><tspan dy="9.5">/D</tspan></text><line x1="907.47" y1="15.0" x2="907.47" y2="501.0" stroke="#f3f3f3" stroke-width="1"/><line x1="994.21" y1="15.0" x2="994.21" y2="501.0" stroke="#f3f3f3" stroke-width="1"/><line x1="1080.96" y1="15.0" x2="1080.96" y2="501.0" stroke="#f3f3f3" stroke-width="1"/><line x1="1167.70" y1="15.0" x2="1167.70" y2="501.0" stroke="#f3f3f3" stroke-width="1"/><line x1="1254.44" y1="15.0" x2="1254.44" y2="501.0" stroke="#f3f3f3" stroke-width="1"/><line x1="1341.19" y1="15.0" x2="1341.19" y2="501.0" stroke="#f3f3f3" stroke-width="1"/><line x1="1427.93" y1="15.0" x2="1427.93" y2="501.0" stroke="#f3f3f3" stroke-width="1"/><line x1="864.1" y1="45.38" x2="1471.3" y2="45.38" stroke="#f3f3f3" stroke-width="1"/><line x1="864.1" y1="106.12" x2="1471.3" y2="106.12" stroke="#f3f3f3" stroke-width="1"/><line x1="864.1" y1="166.88" x2="1471.3" y2="166.88" stroke="#f3f3f3" stroke-width="1"/><line x1="864.1" y1="227.62" x2="1471.3" y2="227.62" stroke="#f3f3f3" stroke-width="1"/><line x1="864.1" y1="288.38" x2="1471.3" y2="288.38" stroke="#f3f3f3" stroke-width="1"/><line x1="864.1" y1="349.12" x2="1471.3" y2="349.12" stroke="#f3f3f3" stroke-width="1"/><line x1="864.1" y1="409.88" x2="1471.3" y2="409.88" stroke="#f3f3f3" stroke-width="1"/><line x1="864.1" y1="470.62" x2="1471.3" y2="470.62" stroke="#f3f3f3" stroke-width="1"/><line x1="950.84" y1="15.0" x2="950.84" y2="501.0" stroke="#b0b0b0" stroke-width="1" stroke-dasharray="3.2 2.6"/><line x1="1037.59" y1="15.0" x2="1037.59" y2="501.0" stroke="#b0b0b0" stroke-width="1" stroke-dasharray="3.2 2.6"/><line x1="1124.33" y1="15.0" x2="1124.33" y2="501.0" stroke="#b0b0b0" stroke-width="1" stroke-dasharray="3.2 2.6"/><line x1="1211.07" y1="15.0" x2="1211.07" y2="501.0" stroke="#b0b0b0" stroke-width="1" stroke-dasharray="3.2 2.6"/><line x1="1297.81" y1="15.0" x2="1297.81" y2="501.0" stroke="#b0b0b0" stroke-width="1" stroke-dasharray="3.2 2.6"/><line x1="1384.56" y1="15.0" x2="1384.56" y2="501.0" stroke="#b0b0b0" stroke-width="1" stroke-dasharray="3.2 2.6"/><line x1="864.1" y1="75.75" x2="1471.3" y2="75.75" stroke="#b0b0b0" stroke-width="1" stroke-dasharray="3.2 2.6"/><line x1="864.1" y1="136.50" x2="1471.3" y2="136.50" stroke="#b0b0b0" stroke-width="1" stroke-dasharray="3.2 2.6"/><line x1="864.1" y1="197.25" x2="1471.3" y2="197.25" stroke="#b0b0b0" stroke-width="1" stroke-dasharray="3.2 2.6"/><line x1="864.1" y1="258.00" x2="1471.3" y2="258.00" stroke="#b0b0b0" stroke-width="1" stroke-dasharray="3.2 2.6"/><line x1="864.1" y1="318.75" x2="1471.3" y2="318.75" stroke="#b0b0b0" stroke-width="1" stroke-dasharray="3.2 2.6"/><line x1="864.1" y1="379.50" x2="1471.3" y2="379.50" stroke="#b0b0b0" stroke-width="1" stroke-dasharray="3.2 2.6"/><line x1="864.1" y1="440.25" x2="1471.3" y2="440.25" stroke="#b0b0b0" stroke-width="1" stroke-dasharray="3.2 2.6"/><g clip-path="url(#cb)"><path d="M875.03 15.00 L882.95 26.54 L891.02 38.09 L899.23 49.63 L907.59 61.17 L916.17 72.71 L924.97 84.25 L934.03 95.80 L943.25 107.34 L952.64 118.88 L962.29 130.43 L972.29 141.97 L982.75 153.51 L993.67 165.05 L1004.93 176.59 L1016.41 188.14 L1028.00 199.68 L1039.58 211.22 L1050.97 222.76 L1062.14 234.31 L1073.22 245.85 L1084.35 257.39 L1095.34 268.94 L1106.11 280.48 L1117.07 292.02 L1128.66 303.56 L1141.06 315.11 L1153.48 326.65 L1165.97 338.19 L1178.51 349.73 L1191.05 361.27 L1203.55 372.82 L1215.96 384.36 L1227.94 395.90 L1239.48 407.44 L1250.90 418.99 L1262.49 430.53 L1274.55 442.07 L1287.01 453.62 L1299.72 465.16 L1312.67 476.70" fill="none" stroke="#484848" stroke-width="2.9" stroke-linejoin="round" stroke-linecap="round"/><rect x="870.18" y="10.15" width="9.70" height="9.70" fill="#000000"/><rect x="878.10" y="21.69" width="9.70" height="9.70" fill="#000000"/><rect x="886.17" y="33.23" width="9.70" height="9.70" fill="#000000"/><rect x="894.38" y="44.78" width="9.70" height="9.70" fill="#000000"/><rect x="902.74" y="56.32" width="9.70" height="9.70" fill="#000000"/><rect x="911.32" y="67.86" width="9.70" height="9.70" fill="#000000"/><rect x="920.12" y="79.41" width="9.70" height="9.70" fill="#000000"/><rect x="929.18" y="90.95" width="9.70" height="9.70" fill="#000000"/><rect x="938.40" y="102.49" width="9.70" height="9.70" fill="#000000"/><rect x="947.79" y="114.03" width="9.70" height="9.70" fill="#000000"/><rect x="957.44" y="125.58" width="9.70" height="9.70" fill="#000000"/><rect x="967.44" y="137.12" width="9.70" height="9.70" fill="#000000"/><rect x="977.90" y="148.66" width="9.70" height="9.70" fill="#000000"/><rect x="988.82" y="160.20" width="9.70" height="9.70" fill="#000000"/><rect x="1000.08" y="171.75" width="9.70" height="9.70" fill="#000000"/><rect x="1011.56" y="183.29" width="9.70" height="9.70" fill="#000000"/><rect x="1023.15" y="194.83" width="9.70" height="9.70" fill="#000000"/><rect x="1034.73" y="206.37" width="9.70" height="9.70" fill="#000000"/><rect x="1046.12" y="217.91" width="9.70" height="9.70" fill="#000000"/><rect x="1057.29" y="229.46" width="9.70" height="9.70" fill="#000000"/><rect x="1068.37" y="241.00" width="9.70" height="9.70" fill="#000000"/><rect x="1079.50" y="252.54" width="9.70" height="9.70" fill="#000000"/><rect x="1090.49" y="264.08" width="9.70" height="9.70" fill="#000000"/><rect x="1101.26" y="275.63" width="9.70" height="9.70" fill="#000000"/><rect x="1112.22" y="287.17" width="9.70" height="9.70" fill="#000000"/><rect x="1123.81" y="298.71" width="9.70" height="9.70" fill="#000000"/><rect x="1136.21" y="310.25" width="9.70" height="9.70" fill="#000000"/><rect x="1148.63" y="321.80" width="9.70" height="9.70" fill="#000000"/><rect x="1161.12" y="333.34" width="9.70" height="9.70" fill="#000000"/><rect x="1173.66" y="344.88" width="9.70" height="9.70" fill="#000000"/><rect x="1186.20" y="356.42" width="9.70" height="9.70" fill="#000000"/><rect x="1198.70" y="367.97" width="9.70" height="9.70" fill="#000000"/><rect x="1211.11" y="379.51" width="9.70" height="9.70" fill="#000000"/><rect x="1223.09" y="391.05" width="9.70" height="9.70" fill="#000000"/><rect x="1234.63" y="402.59" width="9.70" height="9.70" fill="#000000"/><rect x="1246.05" y="414.14" width="9.70" height="9.70" fill="#000000"/><rect x="1257.64" y="425.68" width="9.70" height="9.70" fill="#000000"/><rect x="1269.70" y="437.22" width="9.70" height="9.70" fill="#000000"/><rect x="1282.16" y="448.76" width="9.70" height="9.70" fill="#000000"/><rect x="1294.87" y="460.31" width="9.70" height="9.70" fill="#000000"/><rect x="1307.82" y="471.85" width="9.70" height="9.70" fill="#000000"/><path d="M874.93 15.00 L882.87 26.54 L891.02 38.09 L899.47 49.63 L908.13 61.17 L916.76 72.71 L925.08 84.25 L933.55 95.80 L942.18 107.34 L950.90 118.88 L959.98 130.43 L969.68 141.97 L980.26 153.51 L991.52 165.05 L1003.07 176.59 L1014.84 188.14 L1026.76 199.68 L1038.73 211.22 L1050.62 222.76 L1062.40 234.31 L1074.18 245.85 L1086.11 257.39 L1098.16 268.94 L1110.27 280.48 L1122.53 292.02 L1135.06 303.56 L1147.90 315.11 L1160.91 326.65 L1174.11 338.19 L1187.47 349.73 L1200.94 361.27 L1214.49 372.82 L1228.06 384.36 L1241.52 395.90 L1254.88 407.44 L1268.30 418.99 L1281.90 430.53 L1295.83 442.07 L1310.06 453.62 L1324.50 465.16 L1339.17 476.70" fill="none" stroke="#ee3a3a" stroke-width="2.9" stroke-linejoin="round" stroke-linecap="round"/><circle cx="874.93" cy="15.00" r="5.4" fill="#ff0000"/><circle cx="882.87" cy="26.54" r="5.4" fill="#ff0000"/><circle cx="891.02" cy="38.09" r="5.4" fill="#ff0000"/><circle cx="899.47" cy="49.63" r="5.4" fill="#ff0000"/><circle cx="908.13" cy="61.17" r="5.4" fill="#ff0000"/><circle cx="916.76" cy="72.71" r="5.4" fill="#ff0000"/><circle cx="925.08" cy="84.25" r="5.4" fill="#ff0000"/><circle cx="933.55" cy="95.80" r="5.4" fill="#ff0000"/><circle cx="942.18" cy="107.34" r="5.4" fill="#ff0000"/><circle cx="950.90" cy="118.88" r="5.4" fill="#ff0000"/><circle cx="959.98" cy="130.43" r="5.4" fill="#ff0000"/><circle cx="969.68" cy="141.97" r="5.4" fill="#ff0000"/><circle cx="980.26" cy="153.51" r="5.4" fill="#ff0000"/><circle cx="991.52" cy="165.05" r="5.4" fill="#ff0000"/><circle cx="1003.07" cy="176.59" r="5.4" fill="#ff0000"/><circle cx="1014.84" cy="188.14" r="5.4" fill="#ff0000"/><circle cx="1026.76" cy="199.68" r="5.4" fill="#ff0000"/><circle cx="1038.73" cy="211.22" r="5.4" fill="#ff0000"/><circle cx="1050.62" cy="222.76" r="5.4" fill="#ff0000"/><circle cx="1062.40" cy="234.31" r="5.4" fill="#ff0000"/><circle cx="1074.18" cy="245.85" r="5.4" fill="#ff0000"/><circle cx="1086.11" cy="257.39" r="5.4" fill="#ff0000"/><circle cx="1098.16" cy="268.94" r="5.4" fill="#ff0000"/><circle cx="1110.27" cy="280.48" r="5.4" fill="#ff0000"/><circle cx="1122.53" cy="292.02" r="5.4" fill="#ff0000"/><circle cx="1135.06" cy="303.56" r="5.4" fill="#ff0000"/><circle cx="1147.90" cy="315.11" r="5.4" fill="#ff0000"/><circle cx="1160.91" cy="326.65" r="5.4" fill="#ff0000"/><circle cx="1174.11" cy="338.19" r="5.4" fill="#ff0000"/><circle cx="1187.47" cy="349.73" r="5.4" fill="#ff0000"/><circle cx="1200.94" cy="361.27" r="5.4" fill="#ff0000"/><circle cx="1214.49" cy="372.82" r="5.4" fill="#ff0000"/><circle cx="1228.06" cy="384.36" r="5.4" fill="#ff0000"/><circle cx="1241.52" cy="395.90" r="5.4" fill="#ff0000"/><circle cx="1254.88" cy="407.44" r="5.4" fill="#ff0000"/><circle cx="1268.30" cy="418.99" r="5.4" fill="#ff0000"/><circle cx="1281.90" cy="430.53" r="5.4" fill="#ff0000"/><circle cx="1295.83" cy="442.07" r="5.4" fill="#ff0000"/><circle cx="1310.06" cy="453.62" r="5.4" fill="#ff0000"/><circle cx="1324.50" cy="465.16" r="5.4" fill="#ff0000"/><circle cx="1339.17" cy="476.70" r="5.4" fill="#ff0000"/><path d="M875.13 15.00 L883.82 26.54 L892.52 38.09 L901.21 49.63 L909.89 61.17 L918.68 72.71 L927.57 84.25 L936.49 95.80 L945.40 107.34 L954.35 118.88 L963.40 130.43 L972.60 141.97 L982.02 153.51 L991.53 165.05 L1001.12 176.59 L1010.91 188.14 L1021.07 199.68 L1031.73 211.22 L1042.99 222.76 L1054.69 234.31 L1066.55 245.85 L1078.33 257.39 L1089.66 268.94 L1100.61 280.48 L1111.62 292.02 L1123.16 303.56 L1135.43 315.11 L1147.52 326.65 L1159.38 338.19 L1171.17 349.73 L1183.07 361.27 L1195.22 372.82 L1207.80 384.36 L1220.65 395.90 L1233.70 407.44 L1247.04 418.99 L1260.80 430.53 L1275.10 442.07 L1289.80 453.62 L1304.83 465.16 L1320.27 476.70" fill="none" stroke="#1262d8" stroke-width="2.9" stroke-linejoin="round" stroke-linecap="round"/><path d="M875.13 8.20L881.63 18.80L868.63 18.80Z" fill="#0b66ad"/><path d="M883.82 19.74L890.32 30.34L877.32 30.34Z" fill="#0b66ad"/><path d="M892.52 31.29L899.02 41.88L886.02 41.88Z" fill="#0b66ad"/><path d="M901.21 42.83L907.71 53.43L894.71 53.43Z" fill="#0b66ad"/><path d="M909.89 54.37L916.39 64.97L903.39 64.97Z" fill="#0b66ad"/><path d="M918.68 65.91L925.18 76.51L912.18 76.51Z" fill="#0b66ad"/><path d="M927.57 77.45L934.07 88.05L921.07 88.05Z" fill="#0b66ad"/><path d="M936.49 89.00L942.99 99.60L929.99 99.60Z" fill="#0b66ad"/><path d="M945.40 100.54L951.90 111.14L938.90 111.14Z" fill="#0b66ad"/><path d="M954.35 112.08L960.85 122.68L947.85 122.68Z" fill="#0b66ad"/><path d="M963.40 123.63L969.90 134.23L956.90 134.23Z" fill="#0b66ad"/><path d="M972.60 135.17L979.10 145.77L966.10 145.77Z" fill="#0b66ad"/><path d="M982.02 146.71L988.52 157.31L975.52 157.31Z" fill="#0b66ad"/><path d="M991.53 158.25L998.03 168.85L985.03 168.85Z" fill="#0b66ad"/><path d="M1001.12 169.79L1007.62 180.40L994.62 180.40Z" fill="#0b66ad"/><path d="M1010.91 181.34L1017.41 191.94L1004.41 191.94Z" fill="#0b66ad"/><path d="M1021.07 192.88L1027.57 203.48L1014.57 203.48Z" fill="#0b66ad"/><path d="M1031.73 204.42L1038.23 215.02L1025.23 215.02Z" fill="#0b66ad"/><path d="M1042.99 215.96L1049.49 226.56L1036.49 226.56Z" fill="#0b66ad"/><path d="M1054.69 227.51L1061.19 238.11L1048.19 238.11Z" fill="#0b66ad"/><path d="M1066.55 239.05L1073.05 249.65L1060.05 249.65Z" fill="#0b66ad"/><path d="M1078.33 250.59L1084.83 261.19L1071.83 261.19Z" fill="#0b66ad"/><path d="M1089.66 262.13L1096.16 272.74L1083.16 272.74Z" fill="#0b66ad"/><path d="M1100.61 273.68L1107.11 284.28L1094.11 284.28Z" fill="#0b66ad"/><path d="M1111.62 285.22L1118.12 295.82L1105.12 295.82Z" fill="#0b66ad"/><path d="M1123.16 296.76L1129.66 307.36L1116.66 307.36Z" fill="#0b66ad"/><path d="M1135.43 308.31L1141.93 318.91L1128.93 318.91Z" fill="#0b66ad"/><path d="M1147.52 319.85L1154.02 330.45L1141.02 330.45Z" fill="#0b66ad"/><path d="M1159.38 331.39L1165.88 341.99L1152.88 341.99Z" fill="#0b66ad"/><path d="M1171.17 342.93L1177.67 353.53L1164.67 353.53Z" fill="#0b66ad"/><path d="M1183.07 354.47L1189.57 365.07L1176.57 365.07Z" fill="#0b66ad"/><path d="M1195.22 366.02L1201.72 376.62L1188.72 376.62Z" fill="#0b66ad"/><path d="M1207.80 377.56L1214.30 388.16L1201.30 388.16Z" fill="#0b66ad"/><path d="M1220.65 389.10L1227.15 399.70L1214.15 399.70Z" fill="#0b66ad"/><path d="M1233.70 400.64L1240.20 411.25L1227.20 411.25Z" fill="#0b66ad"/><path d="M1247.04 412.19L1253.54 422.79L1240.54 422.79Z" fill="#0b66ad"/><path d="M1260.80 423.73L1267.30 434.33L1254.30 434.33Z" fill="#0b66ad"/><path d="M1275.10 435.27L1281.60 445.87L1268.60 445.87Z" fill="#0b66ad"/><path d="M1289.80 446.81L1296.30 457.42L1283.30 457.42Z" fill="#0b66ad"/><path d="M1304.83 458.36L1311.33 468.96L1298.33 468.96Z" fill="#0b66ad"/><path d="M1320.27 469.90L1326.77 480.50L1313.77 480.50Z" fill="#0b66ad"/><path d="M875.23 15.00 L883.65 26.54 L892.02 38.09 L900.08 49.63 L908.09 61.17 L916.91 72.71 L926.58 84.25 L936.71 95.80 L947.21 107.34 L957.97 118.88 L968.92 130.43 L980.01 141.97 L991.16 153.51 L1002.18 165.05 L1013.01 176.59 L1023.84 188.14 L1034.80 199.68 L1046.08 211.22 L1057.72 222.76 L1069.61 234.31 L1081.66 245.85 L1093.80 257.39 L1105.96 268.94 L1118.17 280.48 L1130.54 292.02 L1143.16 303.56 L1156.09 315.11 L1169.09 326.65 L1182.19 338.19 L1195.40 349.73 L1208.71 361.27 L1222.13 372.82 L1235.66 384.36 L1249.17 395.90 L1262.69 407.44 L1276.35 418.99 L1290.31 430.53 L1304.71 442.07 L1319.47 453.62 L1334.52 465.16 L1349.87 476.70" fill="none" stroke="#2ea66a" stroke-width="2.9" stroke-linejoin="round" stroke-linecap="round"/><path d="M875.23 21.80L881.73 11.20L868.73 11.20Z" fill="#008000"/><path d="M883.65 33.34L890.15 22.74L877.15 22.74Z" fill="#008000"/><path d="M892.02 44.88L898.52 34.29L885.52 34.29Z" fill="#008000"/><path d="M900.08 56.43L906.58 45.83L893.58 45.83Z" fill="#008000"/><path d="M908.09 67.97L914.59 57.37L901.59 57.37Z" fill="#008000"/><path d="M916.91 79.51L923.41 68.91L910.41 68.91Z" fill="#008000"/><path d="M926.58 91.05L933.08 80.45L920.08 80.45Z" fill="#008000"/><path d="M936.71 102.60L943.21 92.00L930.21 92.00Z" fill="#008000"/><path d="M947.21 114.14L953.71 103.54L940.71 103.54Z" fill="#008000"/><path d="M957.97 125.68L964.47 115.08L951.47 115.08Z" fill="#008000"/><path d="M968.92 137.23L975.42 126.63L962.42 126.63Z" fill="#008000"/><path d="M980.01 148.77L986.51 138.17L973.51 138.17Z" fill="#008000"/><path d="M991.16 160.31L997.66 149.71L984.66 149.71Z" fill="#008000"/><path d="M1002.18 171.85L1008.68 161.25L995.68 161.25Z" fill="#008000"/><path d="M1013.01 183.40L1019.51 172.79L1006.51 172.79Z" fill="#008000"/><path d="M1023.84 194.94L1030.34 184.34L1017.34 184.34Z" fill="#008000"/><path d="M1034.80 206.48L1041.30 195.88L1028.30 195.88Z" fill="#008000"/><path d="M1046.08 218.02L1052.58 207.42L1039.58 207.42Z" fill="#008000"/><path d="M1057.72 229.56L1064.22 218.96L1051.22 218.96Z" fill="#008000"/><path d="M1069.61 241.11L1076.11 230.51L1063.11 230.51Z" fill="#008000"/><path d="M1081.66 252.65L1088.16 242.05L1075.16 242.05Z" fill="#008000"/><path d="M1093.80 264.19L1100.30 253.59L1087.30 253.59Z" fill="#008000"/><path d="M1105.96 275.74L1112.46 265.13L1099.46 265.13Z" fill="#008000"/><path d="M1118.17 287.28L1124.67 276.68L1111.67 276.68Z" fill="#008000"/><path d="M1130.54 298.82L1137.04 288.22L1124.04 288.22Z" fill="#008000"/><path d="M1143.16 310.36L1149.66 299.76L1136.66 299.76Z" fill="#008000"/><path d="M1156.09 321.91L1162.59 311.31L1149.59 311.31Z" fill="#008000"/><path d="M1169.09 333.45L1175.59 322.85L1162.59 322.85Z" fill="#008000"/><path d="M1182.19 344.99L1188.69 334.39L1175.69 334.39Z" fill="#008000"/><path d="M1195.40 356.53L1201.90 345.93L1188.90 345.93Z" fill="#008000"/><path d="M1208.71 368.07L1215.21 357.47L1202.21 357.47Z" fill="#008000"/><path d="M1222.13 379.62L1228.63 369.02L1215.63 369.02Z" fill="#008000"/><path d="M1235.66 391.16L1242.16 380.56L1229.16 380.56Z" fill="#008000"/><path d="M1249.17 402.70L1255.67 392.10L1242.67 392.10Z" fill="#008000"/><path d="M1262.69 414.25L1269.19 403.64L1256.19 403.64Z" fill="#008000"/><path d="M1276.35 425.79L1282.85 415.19L1269.85 415.19Z" fill="#008000"/><path d="M1290.31 437.33L1296.81 426.73L1283.81 426.73Z" fill="#008000"/><path d="M1304.71 448.87L1311.21 438.27L1298.21 438.27Z" fill="#008000"/><path d="M1319.47 460.42L1325.97 449.81L1312.97 449.81Z" fill="#008000"/><path d="M1334.52 471.96L1341.02 461.36L1328.02 461.36Z" fill="#008000"/><path d="M1349.87 483.50L1356.37 472.90L1343.37 472.90Z" fill="#008000"/><path d="M875.73 15.00 L885.29 26.54 L895.02 38.09 L904.93 49.63 L915.01 61.17 L925.25 72.71 L935.67 84.25 L946.26 95.80 L957.03 107.34 L967.96 118.88 L979.06 130.43 L990.33 141.97 L1001.77 153.51 L1013.38 165.05 L1025.16 176.59 L1037.10 188.14 L1049.21 199.68 L1061.49 211.22 L1073.93 222.76 L1086.54 234.31 L1099.32 245.85 L1112.26 257.39 L1125.36 268.94 L1138.63 280.48 L1152.06 292.02 L1165.66 303.56 L1179.41 315.11 L1193.33 326.65 L1207.42 338.19 L1221.66 349.73 L1236.06 361.27 L1250.63 372.82 L1265.36 384.36 L1280.24 395.90 L1295.28 407.44 L1310.49 418.99 L1325.85 430.53 L1341.37 442.07 L1357.04 453.62 L1372.88 465.16 L1388.87 476.70" fill="none" stroke="#a86ad4" stroke-width="2.9" stroke-linejoin="round" stroke-linecap="round"/><path d="M875.73 8.30L882.43 15.00L875.73 21.70L869.03 15.00Z" fill="#9933ff"/><path d="M885.29 19.84L891.99 26.54L885.29 33.24L878.59 26.54Z" fill="#9933ff"/><path d="M895.02 31.39L901.72 38.09L895.02 44.79L888.32 38.09Z" fill="#9933ff"/><path d="M904.93 42.93L911.63 49.63L904.93 56.33L898.23 49.63Z" fill="#9933ff"/><path d="M915.01 54.47L921.71 61.17L915.01 67.87L908.31 61.17Z" fill="#9933ff"/><path d="M925.25 66.01L931.95 72.71L925.25 79.41L918.55 72.71Z" fill="#9933ff"/><path d="M935.67 77.55L942.37 84.25L935.67 90.95L928.97 84.25Z" fill="#9933ff"/><path d="M946.26 89.10L952.96 95.80L946.26 102.50L939.56 95.80Z" fill="#9933ff"/><path d="M957.03 100.64L963.73 107.34L957.03 114.04L950.33 107.34Z" fill="#9933ff"/><path d="M967.96 112.18L974.66 118.88L967.96 125.58L961.26 118.88Z" fill="#9933ff"/><path d="M979.06 123.73L985.76 130.43L979.06 137.12L972.36 130.43Z" fill="#9933ff"/><path d="M990.33 135.27L997.03 141.97L990.33 148.67L983.63 141.97Z" fill="#9933ff"/><path d="M1001.77 146.81L1008.47 153.51L1001.77 160.21L995.07 153.51Z" fill="#9933ff"/><path d="M1013.38 158.35L1020.08 165.05L1013.38 171.75L1006.68 165.05Z" fill="#9933ff"/><path d="M1025.16 169.90L1031.86 176.59L1025.16 183.29L1018.46 176.59Z" fill="#9933ff"/><path d="M1037.10 181.44L1043.80 188.14L1037.10 194.84L1030.40 188.14Z" fill="#9933ff"/><path d="M1049.21 192.98L1055.91 199.68L1049.21 206.38L1042.51 199.68Z" fill="#9933ff"/><path d="M1061.49 204.52L1068.19 211.22L1061.49 217.92L1054.79 211.22Z" fill="#9933ff"/><path d="M1073.93 216.06L1080.63 222.76L1073.93 229.46L1067.23 222.76Z" fill="#9933ff"/><path d="M1086.54 227.61L1093.24 234.31L1086.54 241.01L1079.84 234.31Z" fill="#9933ff"/><path d="M1099.32 239.15L1106.02 245.85L1099.32 252.55L1092.62 245.85Z" fill="#9933ff"/><path d="M1112.26 250.69L1118.96 257.39L1112.26 264.09L1105.56 257.39Z" fill="#9933ff"/><path d="M1125.36 262.24L1132.06 268.94L1125.36 275.63L1118.66 268.94Z" fill="#9933ff"/><path d="M1138.63 273.78L1145.33 280.48L1138.63 287.18L1131.93 280.48Z" fill="#9933ff"/><path d="M1152.06 285.32L1158.76 292.02L1152.06 298.72L1145.36 292.02Z" fill="#9933ff"/><path d="M1165.66 296.86L1172.36 303.56L1165.66 310.26L1158.96 303.56Z" fill="#9933ff"/><path d="M1179.41 308.41L1186.11 315.11L1179.41 321.81L1172.71 315.11Z" fill="#9933ff"/><path d="M1193.33 319.95L1200.03 326.65L1193.33 333.35L1186.63 326.65Z" fill="#9933ff"/><path d="M1207.42 331.49L1214.12 338.19L1207.42 344.89L1200.72 338.19Z" fill="#9933ff"/><path d="M1221.66 343.03L1228.36 349.73L1221.66 356.43L1214.96 349.73Z" fill="#9933ff"/><path d="M1236.06 354.57L1242.76 361.27L1236.06 367.97L1229.36 361.27Z" fill="#9933ff"/><path d="M1250.63 366.12L1257.33 372.82L1250.63 379.52L1243.93 372.82Z" fill="#9933ff"/><path d="M1265.36 377.66L1272.06 384.36L1265.36 391.06L1258.66 384.36Z" fill="#9933ff"/><path d="M1280.24 389.20L1286.94 395.90L1280.24 402.60L1273.54 395.90Z" fill="#9933ff"/><path d="M1295.28 400.75L1301.98 407.44L1295.28 414.14L1288.58 407.44Z" fill="#9933ff"/><path d="M1310.49 412.29L1317.19 418.99L1310.49 425.69L1303.79 418.99Z" fill="#9933ff"/><path d="M1325.85 423.83L1332.55 430.53L1325.85 437.23L1319.15 430.53Z" fill="#9933ff"/><path d="M1341.37 435.37L1348.07 442.07L1341.37 448.77L1334.67 442.07Z" fill="#9933ff"/><path d="M1357.04 446.92L1363.74 453.62L1357.04 460.31L1350.34 453.62Z" fill="#9933ff"/><path d="M1372.88 458.46L1379.58 465.16L1372.88 471.86L1366.18 465.16Z" fill="#9933ff"/><path d="M1388.87 470.00L1395.57 476.70L1388.87 483.40L1382.17 476.70Z" fill="#9933ff"/></g><rect x="864.1" y="15.0" width="607.20" height="486.0" fill="none" stroke="#141414" stroke-width="1.9"/><line x1="855.60" y1="15.00" x2="864.1" y2="15.00" stroke="#141414" stroke-width="1.6"/><line x1="855.60" y1="75.75" x2="864.1" y2="75.75" stroke="#141414" stroke-width="1.6"/><line x1="855.60" y1="136.50" x2="864.1" y2="136.50" stroke="#141414" stroke-width="1.6"/><line x1="855.60" y1="197.25" x2="864.1" y2="197.25" stroke="#141414" stroke-width="1.6"/><line x1="855.60" y1="258.00" x2="864.1" y2="258.00" stroke="#141414" stroke-width="1.6"/><line x1="855.60" y1="318.75" x2="864.1" y2="318.75" stroke="#141414" stroke-width="1.6"/><line x1="855.60" y1="379.50" x2="864.1" y2="379.50" stroke="#141414" stroke-width="1.6"/><line x1="855.60" y1="440.25" x2="864.1" y2="440.25" stroke="#141414" stroke-width="1.6"/><line x1="855.60" y1="501.00" x2="864.1" y2="501.00" stroke="#141414" stroke-width="1.6"/><line x1="859.60" y1="45.38" x2="864.1" y2="45.38" stroke="#141414" stroke-width="1.6"/><line x1="859.60" y1="106.12" x2="864.1" y2="106.12" stroke="#141414" stroke-width="1.6"/><line x1="859.60" y1="166.88" x2="864.1" y2="166.88" stroke="#141414" stroke-width="1.6"/><line x1="859.60" y1="227.62" x2="864.1" y2="227.62" stroke="#141414" stroke-width="1.6"/><line x1="859.60" y1="288.38" x2="864.1" y2="288.38" stroke="#141414" stroke-width="1.6"/><line x1="859.60" y1="349.12" x2="864.1" y2="349.12" stroke="#141414" stroke-width="1.6"/><line x1="859.60" y1="409.88" x2="864.1" y2="409.88" stroke="#141414" stroke-width="1.6"/><line x1="859.60" y1="470.62" x2="864.1" y2="470.62" stroke="#141414" stroke-width="1.6"/><line x1="864.10" y1="501.0" x2="864.10" y2="509.00" stroke="#141414" stroke-width="1.6"/><line x1="950.84" y1="501.0" x2="950.84" y2="509.00" stroke="#141414" stroke-width="1.6"/><line x1="1037.59" y1="501.0" x2="1037.59" y2="509.00" stroke="#141414" stroke-width="1.6"/><line x1="1124.33" y1="501.0" x2="1124.33" y2="509.00" stroke="#141414" stroke-width="1.6"/><line x1="1211.07" y1="501.0" x2="1211.07" y2="509.00" stroke="#141414" stroke-width="1.6"/><line x1="1297.81" y1="501.0" x2="1297.81" y2="509.00" stroke="#141414" stroke-width="1.6"/><line x1="1384.56" y1="501.0" x2="1384.56" y2="509.00" stroke="#141414" stroke-width="1.6"/><line x1="1471.30" y1="501.0" x2="1471.30" y2="509.00" stroke="#141414" stroke-width="1.6"/><line x1="907.47" y1="501.0" x2="907.47" y2="505.30" stroke="#141414" stroke-width="1.6"/><line x1="994.21" y1="501.0" x2="994.21" y2="505.30" stroke="#141414" stroke-width="1.6"/><line x1="1080.96" y1="501.0" x2="1080.96" y2="505.30" stroke="#141414" stroke-width="1.6"/><line x1="1167.70" y1="501.0" x2="1167.70" y2="505.30" stroke="#141414" stroke-width="1.6"/><line x1="1254.44" y1="501.0" x2="1254.44" y2="505.30" stroke="#141414" stroke-width="1.6"/><line x1="1341.19" y1="501.0" x2="1341.19" y2="505.30" stroke="#141414" stroke-width="1.6"/><line x1="1427.93" y1="501.0" x2="1427.93" y2="505.30" stroke="#141414" stroke-width="1.6"/><text x="849.60" y="22.30" text-anchor="end">0</text><text x="849.60" y="83.05" text-anchor="end">−200</text><text x="849.60" y="143.80" text-anchor="end">−400</text><text x="849.60" y="204.55" text-anchor="end">−600</text><text x="849.60" y="265.30" text-anchor="end">−800</text><text x="849.60" y="326.05" text-anchor="end">−1000</text><text x="849.60" y="386.80" text-anchor="end">−1200</text><text x="849.60" y="447.55" text-anchor="end">−1400</text><text x="849.60" y="508.30" text-anchor="end">−1600</text><text x="864.40" y="534.8" text-anchor="middle">3×10<tspan font-size="13.2" dy="-9.4">6</tspan></text><text x="951.14" y="534.8" text-anchor="middle">4×10<tspan font-size="13.2" dy="-9.4">6</tspan></text><text x="1037.89" y="534.8" text-anchor="middle">5×10<tspan font-size="13.2" dy="-9.4">6</tspan></text><text x="1124.63" y="534.8" text-anchor="middle">6×10<tspan font-size="13.2" dy="-9.4">6</tspan></text><text x="1211.37" y="534.8" text-anchor="middle">7×10<tspan font-size="13.2" dy="-9.4">6</tspan></text><text x="1298.11" y="534.8" text-anchor="middle">8×10<tspan font-size="13.2" dy="-9.4">6</tspan></text><text x="1384.86" y="534.8" text-anchor="middle">9×10<tspan font-size="13.2" dy="-9.4">6</tspan></text><text x="1471.60" y="534.8" text-anchor="middle">1×10<tspan font-size="13.2" dy="-9.4">7</tspan></text><text x="1167.7" y="557.2" text-anchor="middle" font-size="23.2">Pressure (Pa)</text><text transform="translate(787 258.6) rotate(-90)" text-anchor="middle" font-size="23.2">Depth (m)</text><rect x="1225.00" y="29.50" width="234.00" height="158.70" fill="#000"/><rect x="1219.00" y="23.50" width="234.00" height="158.70" fill="#fff" stroke="#7a7a7a" stroke-width="1.1"/><line x1="1222.70" y1="42.5" x2="1272.80" y2="42.5" stroke="#484848" stroke-width="2.9" stroke-linecap="round"/><rect x="1242.75" y="37.65" width="9.70" height="9.70" fill="#000000"/><text x="1279.10" y="50.30" font-size="23">LFR=120 m<tspan font-size="14" dy="-9.5">3</tspan><tspan dy="9.5">/D</tspan></text><line x1="1222.70" y1="73.7" x2="1272.80" y2="73.7" stroke="#ee3a3a" stroke-width="2.9" stroke-linecap="round"/><circle cx="1247.60" cy="73.70" r="5.4" fill="#ff0000"/><text x="1279.10" y="81.50" font-size="23">LFR=210 m<tspan font-size="14" dy="-9.5">3</tspan><tspan dy="9.5">/D</tspan></text><line x1="1222.70" y1="104.8" x2="1272.80" y2="104.8" stroke="#1262d8" stroke-width="2.9" stroke-linecap="round"/><path d="M1247.60 98.00L1254.10 108.60L1241.10 108.60Z" fill="#0b66ad"/><text x="1279.10" y="112.60" font-size="23">LFR=294.12 m<tspan font-size="14" dy="-9.5">3</tspan><tspan dy="9.5">/D</tspan></text><line x1="1222.70" y1="136.3" x2="1272.80" y2="136.3" stroke="#2ea66a" stroke-width="2.9" stroke-linecap="round"/><path d="M1247.60 143.10L1254.10 132.50L1241.10 132.50Z" fill="#008000"/><text x="1279.10" y="144.10" font-size="23">LFR=400 m<tspan font-size="14" dy="-9.5">3</tspan><tspan dy="9.5">/D</tspan></text><line x1="1222.70" y1="167.2" x2="1272.80" y2="167.2" stroke="#a86ad4" stroke-width="2.9" stroke-linecap="round"/><path d="M1247.60 160.50L1254.30 167.20L1247.60 173.90L1240.90 167.20Z" fill="#9933ff"/><text x="1279.10" y="175.00" font-size="23">LFR=500 m<tspan font-size="14" dy="-9.5">3</tspan><tspan dy="9.5">/D</tspan></text><text x="411.3" y="621.4" text-anchor="middle" font-size="34">(a) Temperature profile of the tubing</text><text x="1200.1" y="621.4" text-anchor="middle" font-size="34">(b) Pressure drop profile of the tubing</text></svg></body></html>
